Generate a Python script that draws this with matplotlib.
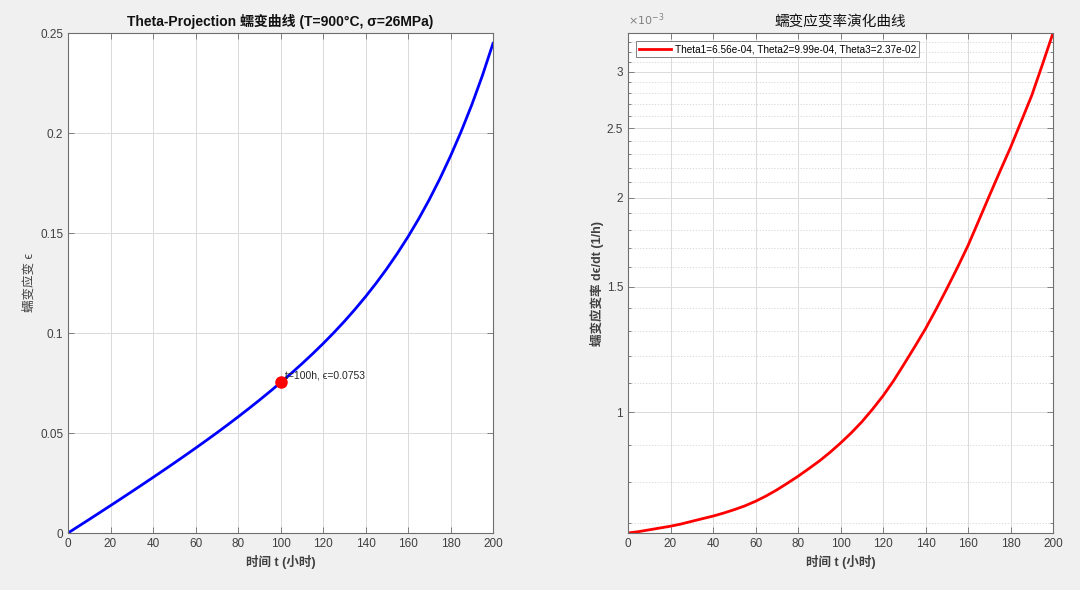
import numpy as np
import matplotlib.pyplot as plt
from matplotlib.ticker import FixedLocator, NullFormatter

plt.rcParams['font.family'] = ['Liberation Sans', 'Noto Sans CJK SC', 'DejaVu Sans']
plt.rcParams['mathtext.fontset'] = 'dejavusans'

# =========================
# Data
# =========================
t_hours = [0, 5, 10, 15, 20, 25, 30, 35, 40, 45, 50, 55, 60, 65, 70, 75, 80, 85, 90, 95, 100,
           105, 110, 115, 120, 125, 130, 135, 140, 145, 150, 155, 160, 165, 170, 175, 180,
           185, 190, 195, 200]

# creep strain (-)
strain = [0.0, 0.0034, 0.0068, 0.01025, 0.0137, 0.01718, 0.02068, 0.02422, 0.02778, 0.03138,
          0.03501, 0.03869, 0.04242, 0.04621, 0.05006, 0.0540, 0.05803, 0.06215, 0.06637,
          0.07071, 0.07517, 0.07977, 0.08454, 0.08949, 0.09465, 0.10006, 0.10575, 0.11177,
          0.11814, 0.1249, 0.13211, 0.13983, 0.1481, 0.15702, 0.16668, 0.17714, 0.18846,
          0.20072, 0.21406, 0.22868, 0.2448]

# creep strain rate (x1e-3 1/h)
strain_rate_e3 = [0.678, 0.681, 0.685, 0.689, 0.693, 0.698, 0.704, 0.710, 0.716, 0.723,
                  0.731, 0.740, 0.751, 0.764, 0.779, 0.796, 0.814, 0.834, 0.855, 0.879,
                  0.906, 0.936, 0.970, 1.010, 1.055, 1.108, 1.170, 1.237, 1.310, 1.395,
                  1.490, 1.595, 1.713, 1.855, 2.010, 2.175, 2.350, 2.555, 2.780, 3.070, 3.400]

mark_t = 100
mark_strain = 0.0753
theta_label = 'Theta1=6.56e-04, Theta2=9.99e-04, Theta3=2.37e-02'

rate_ticks = [1.0, 1.5, 2.0, 2.5, 3.0]
rate_minor = [0.7, 0.8, 0.9, 1.1, 1.2, 1.3, 1.4, 1.6, 1.7, 1.8, 1.9,
              2.1, 2.2, 2.3, 2.4, 2.6, 2.7, 2.8, 2.9, 3.1, 3.2, 3.3]

# =========================
# Style helpers
# =========================
TXT = '#404040'
EDGE = '#6e6e6e'


def matlab_axes(ax):
    ax.set_facecolor('white')
    for s in ax.spines.values():
        s.set_color(EDGE)
        s.set_linewidth(0.8)
    ax.tick_params(which='both', direction='in', top=True, right=True,
                   colors=EDGE, labelcolor=TXT, labelsize=8.5, width=0.6)
    ax.tick_params(which='major', length=4)
    ax.tick_params(which='minor', length=2.5)
    ax.grid(True, which='major', color='#dadada', linewidth=0.7)
    ax.set_axisbelow(True)


fig = plt.figure(figsize=(10.8, 5.9), dpi=100)
fig.patch.set_facecolor('#f0f0f0')

# =========================
# Left: creep curve
# =========================
ax1 = fig.add_axes([68/1080, 57/590, 425/1080, 500/590])
matlab_axes(ax1)
t = np.array(t_hours)
ax1.plot(t, strain, color='#0000ff', linewidth=2)
ax1.plot(mark_t, mark_strain, 'o', color='#ff0000', markersize=8)
ax1.text(mark_t + 2, mark_strain + 0.0008, 't=100h, ϵ=0.0753',
         fontsize=7.5, color='#262626', va='bottom')
ax1.set_xlim(0, 200)
ax1.set_ylim(0, 0.25)
ax1.set_xticks(np.arange(0, 201, 20))
ax1.set_yticks([0, 0.05, 0.1, 0.15, 0.2, 0.25])
ax1.set_yticklabels(['0', '0.05', '0.1', '0.15', '0.2', '0.25'])
ax1.set_title('Theta-Projection 蠕变曲线 (T=900°C, σ=26MPa)',
              fontsize=10, fontweight='bold', color='#111111', pad=5)
ax1.set_xlabel('时间 t (小时)', fontsize=9, fontweight='bold', color=TXT, labelpad=4)
ax1.set_ylabel('蠕变应变 ϵ', fontsize=9, color=TXT, labelpad=3)

# =========================
# Right: strain rate (log)
# =========================
ax2 = fig.add_axes([628/1080, 57/590, 425/1080, 500/590])
matlab_axes(ax2)
rate = np.array(strain_rate_e3) * 1e-3
ax2.plot(t, rate, color='#ff0000', linewidth=2, label=theta_label)
ax2.set_yscale('log')
ax2.set_xlim(0, 200)
ax2.set_ylim(min(rate), max(rate))
ax2.set_xticks(np.arange(0, 201, 20))
ax2.yaxis.set_major_locator(FixedLocator([v * 1e-3 for v in rate_ticks]))
ax2.yaxis.set_minor_locator(FixedLocator([v * 1e-3 for v in rate_minor]))
ax2.yaxis.set_minor_formatter(NullFormatter())
ax2.set_yticklabels(['1', '1.5', '2', '2.5', '3'])
ax2.grid(True, which='minor', axis='y', color='#d4d4d4', linewidth=0.6, linestyle=(0, (1.5, 2)))
ax2.text(0.0, 1.01, '$\\times10^{-3}$', transform=ax2.transAxes,
         fontsize=8, color='#808080', va='bottom', ha='left')
ax2.set_title('蠕变应变率演化曲线', fontsize=10.5, color='#111111', pad=5)
ax2.set_xlabel('时间 t (小时)', fontsize=9, fontweight='bold', color=TXT, labelpad=4)
ax2.set_ylabel('蠕变应变率 dϵ/dt (1/h)', fontsize=9, fontweight='bold',
               color=TXT, labelpad=2)
leg = ax2.legend(loc='upper left', fontsize=7.2, handlelength=3.2,
                 fancybox=False, framealpha=1, borderpad=0.3,
                 borderaxespad=0.8, handletextpad=0.4)
leg.get_frame().set_edgecolor('#808080')
leg.get_frame().set_linewidth(0.7)

fig.savefig('out.png', dpi=100, facecolor=fig.get_facecolor())
